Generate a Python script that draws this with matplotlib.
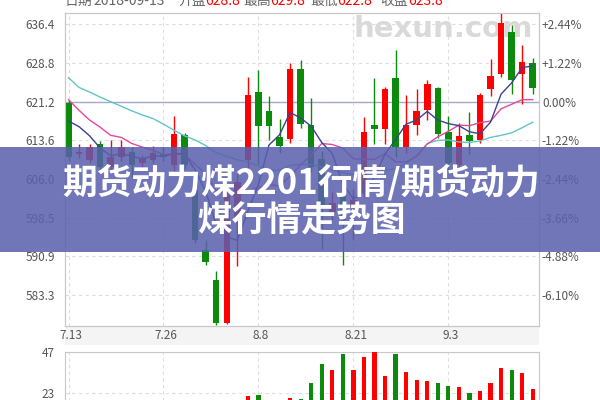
import numpy as np
import matplotlib.pyplot as plt
from matplotlib.patches import Rectangle
from matplotlib.transforms import ScaledTranslation

plt.rcParams['font.family'] = ['Noto Sans CJK SC', 'DejaVu Sans']

# x axis labels (trading-day index -> date)
date_labels = ['7.13', '7.26', '8.8', '8.21', '9.3']
date_idx = [0, 9, 18, 27, 36]

# daily candles, 2018-07-13 .. 2018-09-13
opens = [621.0, 610.9, 609.7, 613.0, 608.4, 610.4, 611.4, 609.1, 609.8, 611.0,
         608.8, 614.6, 603.9, 592.1, 586.2, 577.8, 597.5, 609.8, 623.1, 619.4,
         614.3, 613.8, 627.7, 616.6, 610.0, 599.6, 603.0, 600.5, 603.2, 616.6,
         615.8, 625.8, 612.4, 616.6, 619.6, 623.8, 615.3, 608.8, 614.6, 613.7,
         623.6, 626.7, 634.9, 626.7, 628.8]
highs = [621.5, 612.9, 613.0, 613.4, 613.7, 613.7, 612.3, 610.8, 612.5, 612.4,
         618.4, 615.0, 605.5, 594.1, 588.0, 603.5, 607.0, 626.1, 627.5, 622.3,
         617.9, 628.8, 629.3, 622.0, 611.5, 603.5, 606.0, 604.0, 618.2, 625.8,
         624.0, 631.4, 622.5, 623.7, 625.4, 624.0, 618.4, 617.1, 619.2, 623.0,
         629.5, 638.6, 636.2, 632.3, 629.8]
lows = [609.5, 610.2, 609.2, 607.5, 607.8, 609.5, 606.5, 608.0, 609.2, 609.6,
        607.5, 608.0, 593.5, 589.2, 577.4, 577.6, 589.0, 608.0, 609.0, 613.7,
        611.1, 613.1, 616.0, 607.5, 592.3, 598.0, 589.2, 594.0, 602.5, 613.0,
        613.0, 610.4, 611.1, 614.7, 617.6, 614.0, 607.8, 608.0, 610.9, 613.1,
        622.3, 626.1, 622.8, 620.7, 622.8]
closes = [610.3, 611.3, 612.4, 608.4, 610.4, 612.4, 608.8, 610.1, 611.1, 610.3,
          614.9, 608.8, 594.1, 589.8, 577.8, 602.9, 605.5, 622.5, 616.4, 616.4,
          612.5, 627.7, 616.9, 608.4, 600.7, 601.3, 598.0, 602.0, 615.3, 615.8,
          623.6, 612.4, 616.7, 619.4, 624.6, 614.9, 609.1, 614.5, 613.5, 622.5,
          626.2, 636.7, 625.4, 628.9, 623.8]

# moving average lines as drawn on the chart
ma5 = [617.4, 616.3, 614.5, 612.1, 610.6, 611.0, 610.5, 610.0, 610.6, 610.5,
       611.0, 611.0, 607.8, 603.6, 597.1, 594.7, 594.0, 599.7, 605.0, 612.7,
       614.7, 619.1, 618.0, 616.4, 613.2, 611.0, 605.1, 602.1, 603.5, 606.5,
       610.9, 613.8, 616.8, 617.6, 619.3, 617.6, 616.9, 616.5, 615.3, 614.9,
       617.2, 622.7, 624.9, 627.9, 628.2]
ma10 = [621.6, 619.5, 617.6, 616.2, 614.6, 614.2, 613.0, 612.3, 611.7, 610.8,
        611.0, 610.8, 608.9, 607.1, 603.8, 602.9, 602.5, 603.8, 604.3, 604.9,
        604.7, 606.6, 608.8, 610.7, 613.0, 612.8, 612.1, 610.0, 609.9, 609.9,
        611.0, 609.4, 609.4, 610.5, 612.9, 614.3, 615.4, 616.6, 616.5, 617.1,
        617.4, 619.8, 620.7, 621.6, 621.6]
ma20 = [625.9, 624.0, 623.1, 622.1, 621.2, 620.3, 619.4, 618.6, 617.9, 616.8,
        615.6, 614.5, 613.7, 612.6, 611.2, 610.5, 609.8, 609.4, 608.6, 607.7,
        607.8, 608.7, 608.9, 608.9, 608.4, 607.8, 607.3, 606.9, 607.1, 607.4,
        607.8, 608.0, 609.1, 610.6, 613.0, 613.6, 613.7, 613.3, 613.2, 613.5,
        614.2, 614.6, 615.1, 616.1, 617.2]

volumes = [12, 10, 9, 11, 8, 9, 10, 7, 8, 9,
           14, 12, 16, 15, 18, 17, 16, 20.9, 21.4, 15,
           14, 20.1, 19.5, 28.9, 40.0, 36.0, 45.8, 36.5, 43.7, 47.2,
           33.0, 45.8, 34.9, 30.6, 30.0, 28.9, 26.7, 26.3, 23.0, 24.2,
           28.9, 37.6, 36.0, 34.3, 25.2]
vol_up = [0, 1, 1, 0, 1, 1, 0, 1, 1, 0,
          1, 0, 0, 0, 0, 1, 1, 1, 0, 0,
          0, 1, 0, 0, 0, 1, 0, 1, 1, 1,
          1, 0, 1, 1, 1, 0, 0, 1, 0, 1,
          1, 1, 0, 1, 1]

prev_close = 621.2
pct_steps = [2.44, 1.22, 0.0, -1.22, -2.44, -3.66, -4.88, -6.10]
price_labels = ['636.4', '628.8', '621.2', '613.6', '606.0', '598.5', '590.9', '583.3']
vol_ticks = [23, 47]

RED = '#ff0000'
GREEN = '#0b8a0b'
TXT = '#555555'

fig = plt.figure(figsize=(6, 4), dpi=100)
fig.patch.set_facecolor('white')

ax = fig.add_axes([0.1075, 0.185, 0.791, 0.7825])
axv = fig.add_axes([0.1075, -0.08, 0.791, 0.2008])

x = np.arange(len(closes))
o = np.array(opens)
c = np.array(closes)
up = c >= o
cols = np.where(up, RED, GREEN)

# watermark
ax.text(0.987, 0.923, 'hexun.com', transform=ax.transAxes, ha='right', va='baseline',
        fontsize=21, fontweight='bold', color='#d9d9d9', family='DejaVu Sans', zorder=0)

ax.vlines(x, lows, highs, colors=cols, lw=1, zorder=3)
body = np.maximum(np.abs(c - o), 0.25)
ax.bar(x, body, bottom=np.minimum(o, c), width=0.62, color=cols, zorder=4)

ax.plot(x, ma20, color='#63c3c9', lw=1, zorder=5)
ax.plot(x, ma10, color='#e6479c', lw=1, zorder=5)
ax.plot(x, ma5, color='#3d4190', lw=1, zorder=5)

tick_pos = [prev_close * (1 + p / 100) for p in pct_steps]
ax.set_xlim(-0.38, 44.6)
ax.set_ylim(577.2, 638.6)
ax.set_yticks(tick_pos)
ax.set_yticklabels(price_labels)
for t in tick_pos:
    if abs(t - prev_close) < 0.01:
        ax.axhline(t, color='#a3aac4', lw=1, zorder=1)
    else:
        ax.axhline(t, color='#dddddd', lw=0.8, ls=(0, (3, 3)), zorder=1)
for d in date_idx:
    ax.axvline(d, color='#dddddd', lw=0.8, ls=(0, (3, 3)), zorder=1)
    axv.axvline(d, color='#dddddd', lw=0.8, ls=(0, (3, 3)), zorder=1)

ax.set_xticks(date_idx)
ax.set_xticklabels(date_labels)
ax.tick_params(axis='x', length=0, pad=2.5, labelsize=8.5, labelcolor=TXT)
ax.tick_params(axis='y', length=0, pad=7, labelsize=8.5, labelcolor=TXT)
shift = ScaledTranslation(2.5 / 100, 0, fig.dpi_scale_trans)
for lab in ax.get_xticklabels():
    lab.set_transform(lab.get_transform() + shift)

axr = ax.twinx()
axr.set_ylim(ax.get_ylim())
axr.set_yticks(tick_pos)
axr.set_yticklabels([('+' if p > 0 else '') + f'{p:.2f}%' for p in pct_steps])
axr.tick_params(axis='y', length=0, pad=2, labelsize=8.5, labelcolor=TXT)

for a in (ax, axr, axv):
    for s in a.spines.values():
        s.set_color('#c8c8c8')

# volume panel
vcols = [RED if u else GREEN for u in vol_up]
axv.bar(x, volumes, width=0.4, color=vcols, zorder=3)
axv.set_xlim(ax.get_xlim())
axv.set_ylim(0, 47)
axv.set_yticks(vol_ticks)
axv.set_xticks([])
for t in vol_ticks:
    axv.axhline(t, color='#dddddd', lw=0.8, ls=(0, (3, 3)), zorder=1)
axv.tick_params(axis='y', length=0, pad=7, labelsize=8.5, labelcolor=TXT)

# grey strip behind date labels
fig.add_artist(Rectangle((0.1075, 0.137), 0.791, 0.046, transform=fig.transFigure,
                         facecolor='#f4f4f4', edgecolor='none', zorder=-1))

# quote header, cut at the top of the picture as in the source screenshot
header = [('日期', 65, '#666666'), ('2018-09-13', 93, '#666666'),
          ('开盘', 178, '#666666'), ('628.8', 205, RED),
          ('最高', 243, '#666666'), ('629.8', 270, RED),
          ('最低', 310, '#666666'), ('622.8', 337, RED),
          ('收盘', 380, '#666666'), ('623.8', 408, RED)]
for txt, px, col in header:
    fig.text(px / 600, 1 - 5 / 400, txt, ha='left', va='baseline', fontsize=10, color=col)

# title banner over the chart
fig.add_artist(Rectangle((0, 0.37), 1, 0.2625, transform=fig.transFigure,
                         facecolor='#5a60ad', alpha=0.86, edgecolor='none', zorder=10))
fig.text(0.502, 1 - 182 / 400, '期货动力煤2201行情/期货动力', ha='center', va='center',
         fontsize=25, fontweight='bold', color='white', zorder=11)
fig.text(0.503, 1 - 221 / 400, '煤行情走势图', ha='center', va='center',
         fontsize=25, fontweight='bold', color='white', zorder=11)

fig.savefig('out.png', dpi=100, facecolor='white')
